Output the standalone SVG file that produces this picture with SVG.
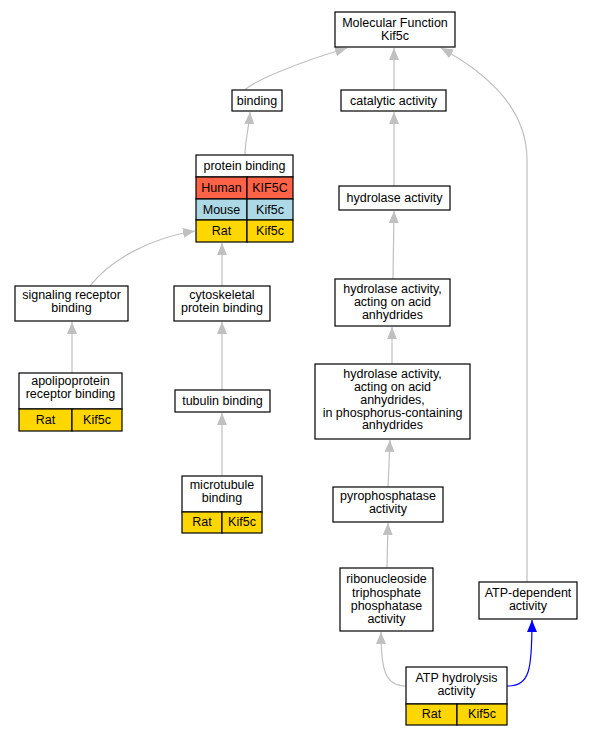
<svg xmlns="http://www.w3.org/2000/svg" width="593" height="736" viewBox="0 0 593 736">
<defs>
<marker id="ag" markerUnits="userSpaceOnUse" markerWidth="13" markerHeight="11" refX="12" refY="5" orient="auto"><path d="M0,0 L12,5 L0,10 z" fill="#c0c0c0"/></marker>
<marker id="ab" markerUnits="userSpaceOnUse" markerWidth="13" markerHeight="11" refX="12" refY="5" orient="auto"><path d="M0,0 L12,5 L0,10 z" fill="#0000ff"/></marker>
</defs>
<style>
rect{stroke:#000;stroke-width:1.2}
.w{fill:#fff}
.h{fill:#ff6347}
.m{fill:#add8e6}
.r{fill:#ffd700}
text{font-family:"Liberation Sans",Arial,sans-serif;font-size:12.5px;text-anchor:middle;fill:#000}
.e{fill:none;stroke:#c0c0c0;stroke-width:1.2;marker-end:url(#ag)}
.eb{fill:none;stroke:#0000ff;stroke-width:1.2;marker-end:url(#ab)}
</style>
<rect width="593" height="736" fill="#fff" style="stroke:none"/>
<g id="edges">
<path class="e" d="M245,90 C255,80 300,62 347,48"/>
<path class="e" d="M394,90 L394,48"/>
<path class="e" d="M245,155 C245,140 249,128 250,112"/>
<path class="e" d="M394,186 L394,112"/>
<path class="e" d="M90,286 C110,260 150,238 195,231"/>
<path class="e" d="M222,286 L222,243"/>
<path class="e" d="M72,373 L72,322"/>
<path class="e" d="M222,390 L222,322"/>
<path class="e" d="M222,476 L222,413"/>
<path class="e" d="M393,279 L394,211"/>
<path class="e" d="M392,364 L392,327"/>
<path class="e" d="M388,487 L390,440"/>
<path class="e" d="M387,568 L388,523"/>
<path class="e" d="M406,686 C385,686 381,670 381,632"/>
<path class="eb" d="M507,686 C530,686 532,670 532,620"/>
<path class="e" d="M527,582 C527,480 527,380 527,160 C527,110 490,75 441,48"/>
</g>
<g id="n1"><rect class="w" x="335" y="12" width="120" height="35"/><text x="395" y="26.5">Molecular Function</text><text x="395" y="39.5">Kif5c</text></g>
<g id="n2"><rect class="w" x="232" y="90" width="50" height="21"/><text x="257" y="105">binding</text></g>
<g id="n3"><rect class="w" x="341" y="90" width="105" height="21"/><text x="393.5" y="105">catalytic activity</text></g>
<g id="n4">
<rect class="w" x="196" y="155" width="97" height="22"/><text x="244.5" y="170">protein binding</text>
<rect class="h" x="196" y="177" width="51" height="22"/><text x="221.5" y="192">Human</text>
<rect class="h" x="247" y="177" width="46" height="22"/><text x="270" y="192">KIF5C</text>
<rect class="m" x="196" y="199" width="51" height="21"/><text x="221.5" y="214">Mouse</text>
<rect class="m" x="247" y="199" width="46" height="21"/><text x="270" y="214">Kif5c</text>
<rect class="r" x="196" y="220" width="51" height="22"/><text x="221.5" y="235">Rat</text>
<rect class="r" x="247" y="220" width="46" height="22"/><text x="270" y="235">Kif5c</text>
</g>
<g id="n5"><rect class="w" x="339" y="186" width="111" height="24"/><text x="394.5" y="202">hydrolase activity</text></g>
<g id="n6"><rect class="w" x="15" y="286" width="113" height="35"/><text x="71.5" y="298.5">signaling receptor</text><text x="71.5" y="311.5">binding</text></g>
<g id="n7"><rect class="w" x="174" y="286" width="96" height="35"/><text x="222" y="298.5">cytoskeletal</text><text x="222" y="311.5">protein binding</text></g>
<g id="n8"><rect class="w" x="335" y="279" width="115" height="47"/><text x="392.5" y="293">hydrolase activity,</text><text x="392.5" y="306">acting on acid</text><text x="392.5" y="318.5">anhydrides</text></g>
<g id="n9">
<rect class="w" x="19" y="373" width="103" height="36"/><text x="70.5" y="385">apolipoprotein</text><text x="70.5" y="398">receptor binding</text>
<rect class="r" x="19" y="409" width="53" height="22"/><text x="45.5" y="424">Rat</text>
<rect class="r" x="72" y="409" width="50" height="22"/><text x="97" y="424">Kif5c</text>
</g>
<g id="n10"><rect class="w" x="175" y="390" width="95" height="22"/><text x="222.5" y="405">tubulin binding</text></g>
<g id="n11"><rect class="w" x="315" y="364" width="155" height="75"/><text x="392.5" y="378">hydrolase activity,</text><text x="392.5" y="391">acting on acid</text><text x="392.5" y="403.5">anhydrides,</text><text x="392.5" y="416.5">in phosphorus-containing</text><text x="392.5" y="429">anhydrides</text></g>
<g id="n12">
<rect class="w" x="182" y="476" width="80" height="36"/><text x="222" y="488.5">microtubule</text><text x="222" y="501.5">binding</text>
<rect class="r" x="182" y="512" width="40" height="21"/><text x="202" y="526">Rat</text>
<rect class="r" x="222" y="512" width="40" height="21"/><text x="242" y="526">Kif5c</text>
</g>
<g id="n13"><rect class="w" x="333" y="487" width="110" height="35"/><text x="388" y="499.5">pyrophosphatase</text><text x="388" y="512.5">activity</text></g>
<g id="n14"><rect class="w" x="340" y="568" width="93" height="63"/><text x="386.5" y="583">ribonucleoside</text><text x="386.5" y="596.5">triphosphate</text><text x="386.5" y="610">phosphatase</text><text x="386.5" y="623">activity</text></g>
<g id="n15"><rect class="w" x="479" y="582" width="98" height="37"/><text x="528" y="596.5">ATP-dependent</text><text x="528" y="609.5">activity</text></g>
<g id="n16">
<rect class="w" x="406" y="667" width="101" height="37"/><text x="456.5" y="681.5">ATP hydrolysis</text><text x="456.5" y="694.5">activity</text>
<rect class="r" x="406" y="704" width="51" height="21"/><text x="431.5" y="718">Rat</text>
<rect class="r" x="457" y="704" width="50" height="21"/><text x="482" y="718">Kif5c</text>
</g>
</svg>
